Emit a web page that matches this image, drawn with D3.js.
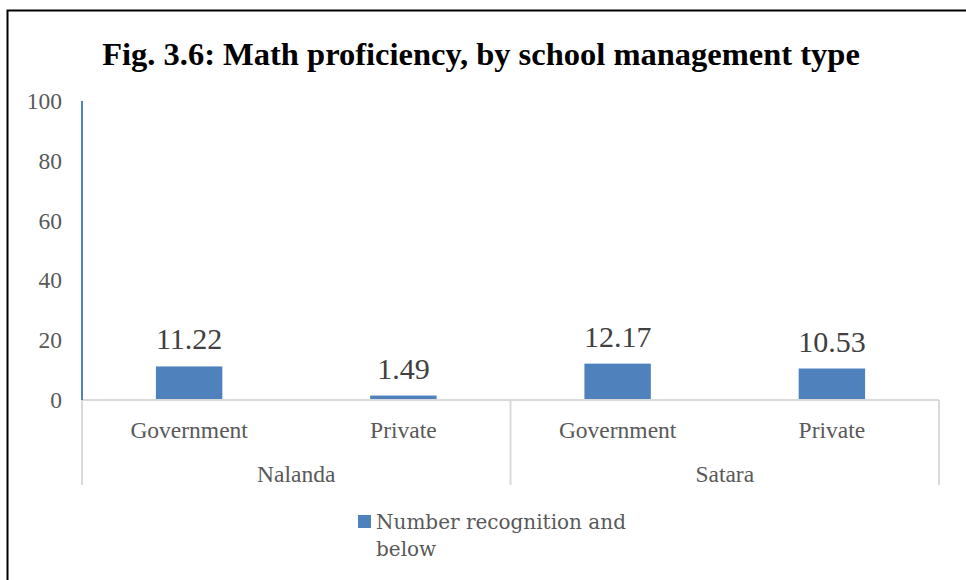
<!DOCTYPE html>
<html><head><meta charset="utf-8">
<script src="https://cdn.jsdelivr.net/npm/d3@7"></script>
<style>body{margin:0;background:#fff}svg{display:block}</style>
</head><body>
<svg id="chart" width="966" height="580"></svg>
<script>
const title = "Fig. 3.6: Math proficiency, by school management type";
const groups = ["Nalanda", "Satara"];
const types = ["Government", "Private"];
const values = [11.22, 1.49, 12.17, 10.53];
const valueLabels = ["11.22", "1.49", "12.17", "10.53"];
const yTicks = [0, 20, 40, 60, 80, 100];
const seriesName = ["Number recognition and", "below"];

(function(){
const svg = d3.select("#chart");
const W = 966, H = 580;
const pLeft = 82, pRight = 939, pTop = 101, pBottom = 400;
const serif = "'Liberation Serif', 'Times New Roman', serif";

svg.append("rect").attr("x",7.5).attr("y",10.5).attr("width",W).attr("height",H)
  .attr("fill","#fff").attr("stroke","#000").attr("stroke-width",2);

svg.append("text").attr("x",481).attr("y",65).attr("text-anchor","middle")
  .attr("font-family",serif).attr("font-weight","bold").attr("font-size",32.5)
  .attr("fill","#000").text(title);

const cats = [];
groups.forEach(g => types.forEach(t => cats.push(g + "|" + t)));
const data = cats.map((c,i)=>({key:c, group:c.split("|")[0], type:c.split("|")[1], v:values[i], label:valueLabels[i]}));

const x = d3.scaleBand().domain(cats).range([pLeft,pRight]).paddingInner(0.69).paddingOuter(0.345);
const xStep = (pRight-pLeft)/cats.length;
const y = d3.scaleLinear().domain([0,100]).range([pBottom,pTop]);

const yAxis = d3.axisLeft(y).tickValues(yTicks).tickSize(0).tickPadding(20);
const ya = svg.append("g").attr("transform",`translate(${pLeft},0)`).call(yAxis);
ya.select(".domain").remove();
ya.selectAll("text").attr("font-family",serif).attr("font-size",23.5).attr("fill","#595959");

svg.selectAll("rect.bar").data(data).enter().append("rect").attr("class","bar")
  .attr("x",d=>x(d.key)).attr("width",x.bandwidth())
  .attr("y",d=>y(d.v)).attr("height",d=>y(0)-y(d.v)).attr("fill","#4f81bd");

svg.selectAll("text.vl").data(data).enter().append("text").attr("class","vl")
  .attr("x",d=>x(d.key)+x.bandwidth()/2).attr("y",d=>y(d.v)-17)
  .attr("text-anchor","middle").attr("font-family",serif).attr("font-size",30)
  .attr("fill","#404040").text(d=>d.label);

svg.append("line").attr("x1",pLeft).attr("x2",pRight).attr("y1",pBottom).attr("y2",pBottom)
  .attr("stroke","#d9d9d9").attr("stroke-width",2);
const gx = [pLeft, pLeft+xStep*2, pRight];
svg.selectAll("line.div").data(gx).enter().append("line").attr("class","div")
  .attr("x1",d=>d).attr("x2",d=>d).attr("y1",pBottom).attr("y2",485)
  .attr("stroke","#d9d9d9").attr("stroke-width",2);

svg.append("line").attr("x1",pLeft).attr("x2",pLeft).attr("y1",pTop).attr("y2",pBottom)
  .attr("stroke","#4f81bd").attr("stroke-width",2);

svg.selectAll("text.cat").data(data).enter().append("text").attr("class","cat")
  .attr("x",d=>x(d.key)+x.bandwidth()/2).attr("y",438).attr("text-anchor","middle")
  .attr("font-family",serif).attr("font-size",23.5).attr("fill","#595959").text(d=>d.type);
svg.selectAll("text.grp").data(groups).enter().append("text").attr("class","grp")
  .attr("x",(d,i)=>pLeft+xStep*(2*i+1)).attr("y",482).attr("text-anchor","middle")
  .attr("font-family",serif).attr("font-size",23.5).attr("fill","#595959").text(d=>d);

svg.append("rect").attr("x",358).attr("y",515).attr("width",13).attr("height",13).attr("fill","#4f81bd");
svg.selectAll("text.leg").data(seriesName).enter().append("text").attr("class","leg")
  .attr("x",376).attr("y",(d,i)=>529+i*27).attr("font-family","'DejaVu Serif', serif").attr("font-size",20)
  .attr("fill","#595959").text(d=>d);
})();
</script>
</body></html>
